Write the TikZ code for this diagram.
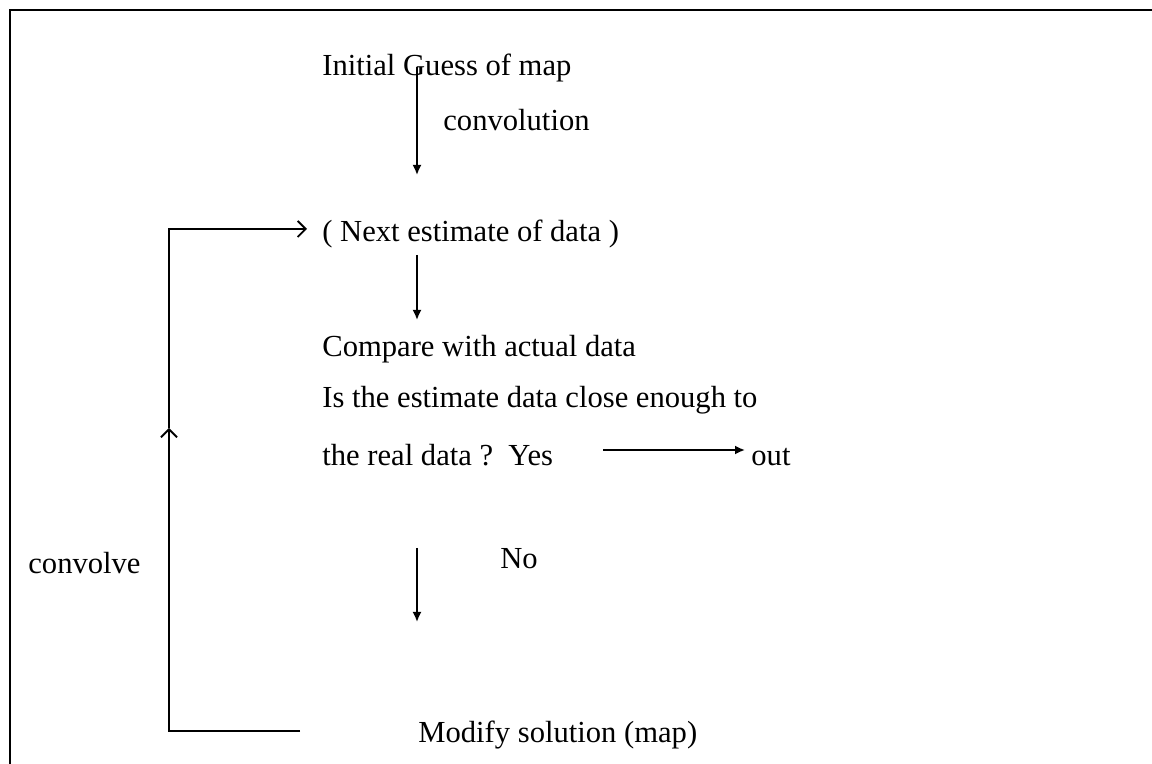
\documentclass[tikz,border=0pt]{standalone}
\usepackage{fontspec}
\setmainfont{Liberation Serif}
\usetikzlibrary{arrows.meta}

\begin{document}
\begin{tikzpicture}[x=0.5pt, y=-0.5pt,
      txt/.style={inner sep=0pt, anchor=base west, font=\fontsize{15.3}{18}\selectfont},
      ln/.style={line width=0.9pt},
      arr/.style={-{Latex[length=5pt, width=4.5pt]}, line width=0.9pt},
      barb/.style={-{Straight Barb[length=4pt, width=8pt]}, line width=0.9pt}]
    \useasboundingbox (0,0) rectangle (1152,764);
    % frame
    \draw[ln] (10,764) -- (10,10) -- (1152,10);
    % texts
    \node[txt] (init) at (322,76) {Initial Guess of map};
    \node[txt] (conv) at (443,131) {convolution};
    \node[txt] (next) at (322,242) {( Next estimate of data )};
    \node[txt] (comp) at (322,357) {Compare with actual data};
    \node[txt] (close) at (322,408) {Is the estimate data close enough to};
    \node[txt] (real) at (322,466) {the real data ?\ \ Yes};
    \node[txt] (out) at (751,466) {out};
    \node[txt] (convolve) at (28,574) {convolve};
    \node[txt] (no) at (500,569) {No};
    \node[txt] (modify) at (418,742) {Modify solution (map)};
    % arrow ends
    \coordinate (a1s) at (417,67);
    \coordinate (a1e) at (417,175);
    \coordinate (a2s) at (417,255);
    \coordinate (a2e) at (417,320);
    \coordinate (yess) at (603,450);
    \coordinate (a3s) at (417,548);
    \coordinate (a3e) at (417,622);
    \coordinate (lpend) at (300,731);
    \coordinate (lpbot) at (169,731);
    \coordinate (lpmid) at (169,428);
    \coordinate (lptop) at (169,229);
    \draw[arr] (a1s) -- (a1e);
    \draw[arr] (a2s) -- (a2e);
    \draw[arr] (yess) -- ([xshift=-3pt]out.west |- yess);
    \draw[arr] (a3s) -- (a3e);
    % feedback loop
    \draw[barb] (lpend) -- (lpbot) -- (lpmid);
    \draw[barb] (lpmid) -- (lptop) -- ([xshift=-7.5pt]next.west |- lptop);
  \end{tikzpicture}
\end{document}
